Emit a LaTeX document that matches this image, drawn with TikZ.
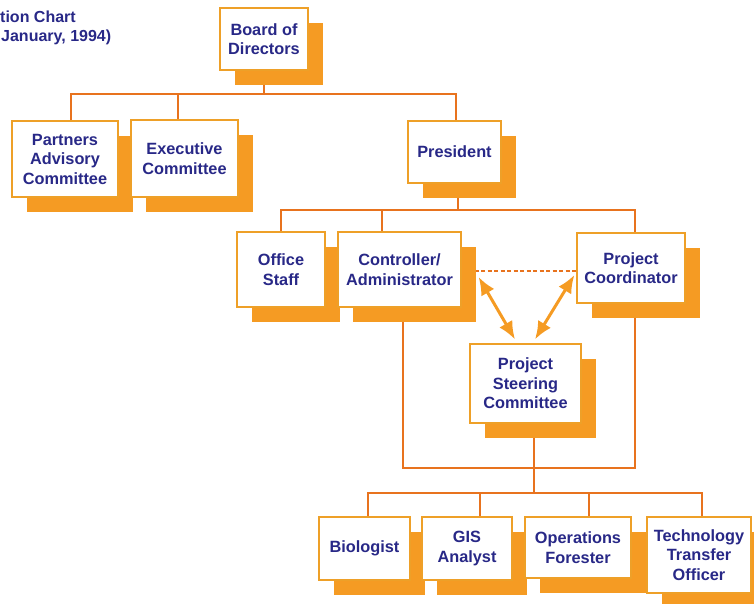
\documentclass[tikz,border=0pt]{standalone}
\usepackage{fontspec}
\setmainfont{Liberation Sans}
\usetikzlibrary{shadows,backgrounds,arrows.meta}
\definecolor{textblue}{RGB}{40,40,135}
\definecolor{boxline}{RGB}{238,160,40}
\definecolor{shadowc}{RGB}{245,155,35}
\definecolor{linec}{RGB}{232,115,30}
\tikzset{
  orgbox/.style={draw=boxline, line width=1.2pt, fill=white, text=textblue,
    font=\fontsize{16.3}{19.5}\selectfont\bfseries, inner sep=0pt, align=center,
    general shadow={shadow xshift=15pt, shadow yshift=-15pt, fill=shadowc}},
  conn/.style={draw=linec, line width=1.3pt},
  dashconn/.style={draw=linec, line width=1.3pt, dash pattern=on 4pt off 2.5pt},
  twoway/.style={draw=shadowc, line width=3pt, {Latex[length=18pt,width=15pt]}-{Latex[length=18pt,width=15pt]}},
  titletext/.style={text=textblue, font=\fontsize{16}{19}\selectfont\bfseries, inner sep=0pt}
}
\begin{document}
\begin{tikzpicture}[x=1pt,y=-1pt]
\useasboundingbox (0,0) rectangle (754,603);

\node[titletext, anchor=base west] (t1) at (0,22) {tion Chart};
\node[titletext, anchor=base west] (t2) at (1,41) {January, 1994)};

\node[orgbox, minimum width=88pt, minimum height=62pt] (board) at (264,39) {Board of\\Directors};
\node[orgbox, minimum width=106pt, minimum height=76pt] (partners) at (65,159) {Partners\\Advisory\\Committee};
\node[orgbox, minimum width=107pt, minimum height=77pt] (exec) at (184.5,158.5) {Executive\\Committee};
\node[orgbox, minimum width=93pt, minimum height=62pt] (president) at (454.5,152) {President};
\node[orgbox, minimum width=88pt, minimum height=75pt] (office) at (281,269.5) {Office\\Staff};
\node[orgbox, minimum width=123pt, minimum height=75pt] (controller) at (399.5,269.5) {Controller/\\Administrator};
\node[orgbox, minimum width=108pt, minimum height=70pt] (coord) at (631,268) {Project\\Coordinator};
\node[orgbox, minimum width=111pt, minimum height=79pt] (steering) at (525.5,383.5) {Project\\Steering\\Committee};
\node[orgbox, minimum width=91pt, minimum height=63pt] (bio) at (364.5,548.5) {Biologist};
\node[orgbox, minimum width=90pt, minimum height=63pt] (gis) at (467,548.5) {GIS\\Analyst};
\node[orgbox, minimum width=106pt, minimum height=61pt] (ops) at (578,547.5) {Operations\\Forester};
\node[orgbox, minimum width=104pt, minimum height=76pt] (tech) at (699,555) {Technology\\Transfer\\Officer};

\coordinate (b1) at (0,94);
\coordinate (b2) at (0,210);
\coordinate (b3) at (0,468);
\coordinate (b4) at (0,493);
\coordinate (d1) at (0,271);

\begin{scope}[on background layer]
  % level 1
  \draw[conn] (board.south) -- (board.south |- b1);
  \draw[conn] ([xshift=6pt]partners.north) |- ([xshift=1.5pt]president.north |- b1) -- ([xshift=1.5pt]president.north);
  \draw[conn] ([xshift=-6.5pt]exec.north) -- ([xshift=-6.5pt]exec.north |- b1);
  % level 2
  \draw[conn] ([xshift=3.5pt]president.south) -- ([xshift=3.5pt]president.south |- b2);
  \draw[conn] (office.north) |- ([xshift=4pt]coord.north |- b2) -- ([xshift=4pt]coord.north);
  \draw[conn] ([xshift=-17.5pt]controller.north) -- ([xshift=-17.5pt]controller.north |- b2);
  % level 3
  \draw[conn] ([xshift=3.5pt]controller.south) |- ([xshift=4pt]coord.south |- b3) -- ([xshift=4pt]coord.south);
  \draw[conn] ([xshift=8.5pt]steering.south) -- ([xshift=8.5pt]steering.south |- b4);
  % level 4
  \draw[conn] ([xshift=3.5pt]bio.north) |- ([xshift=3pt]tech.north |- b4) -- ([xshift=3pt]tech.north);
  \draw[conn] ([xshift=13pt]gis.north) -- ([xshift=13pt]gis.north |- b4);
  \draw[conn] ([xshift=11pt]ops.north) -- ([xshift=11pt]ops.north |- b4);
  % dashed link
  \draw[dashconn] (controller.east |- d1) -- (coord.west |- d1);
\end{scope}

\draw[twoway] ([xshift=17pt,yshift=-7.5pt]controller.east) -- ([xshift=-10.5pt,yshift=4pt]steering.north);
\draw[twoway] ([xshift=9.5pt,yshift=4pt]steering.north) -- ([xshift=-2pt,yshift=-7pt]coord.west);
\end{tikzpicture}
\end{document}
